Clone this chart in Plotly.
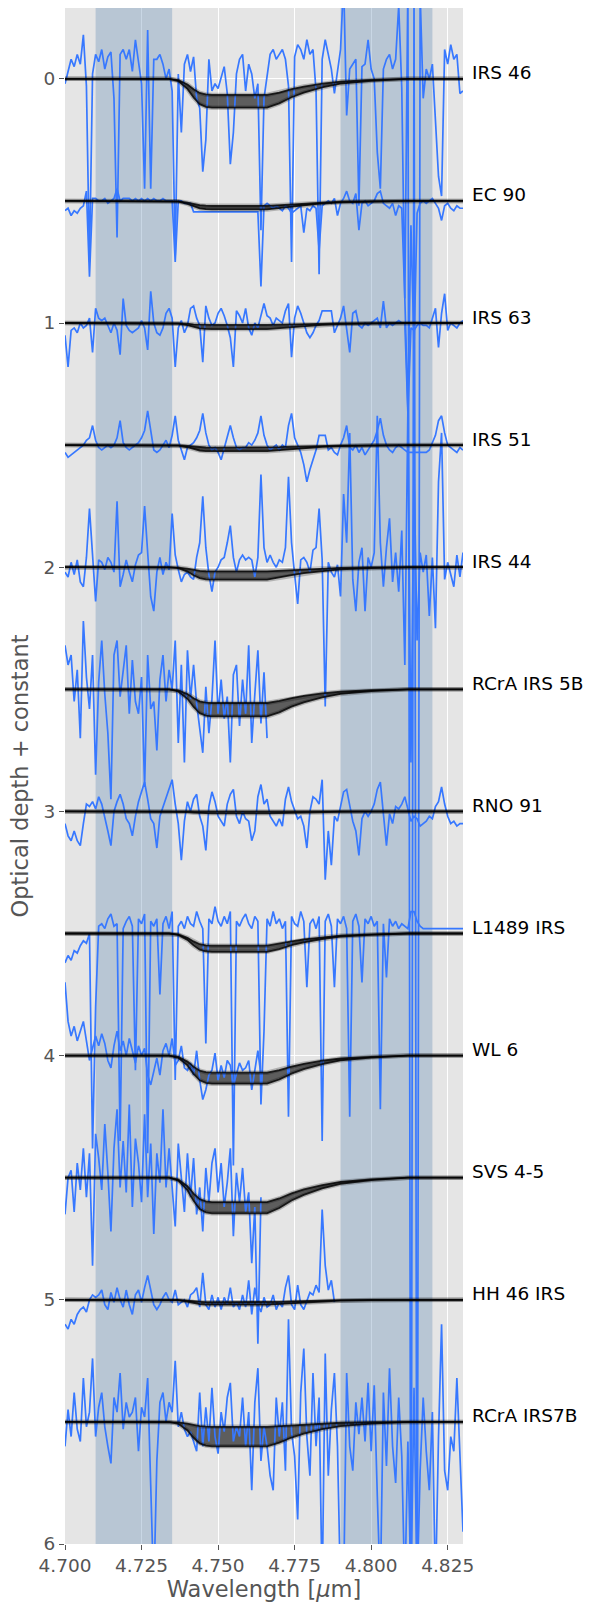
import numpy as np
import plotly.graph_objects as go

# ---------------- data ----------------
# common wavelength sampling of the spectra (micron), 4.700 ... 4.830 step 0.001
wavelength = np.round(np.arange(4700, 4831) / 1000.0, 3)

names = ["IRS 46", "EC 90", "IRS 63", "IRS 51", "IRS 44", "RCrA IRS 5B",
         "RNO 91", "L1489 IRS", "WL 6", "SVS 4-5", "HH 46 IRS", "RCrA IRS7B"]
offsets = [0.0, 0.5, 1.0, 1.5, 2.0, 2.5, 3.0, 3.5, 4.0, 4.5, 5.0, 5.5]

# observed optical depth relative to each offset, in units of 0.01
tau_irs46 = [2, -3, -8, -5, -10, -6, -18, 3, 75, -2,
             -10, -7, -12, -4, -9, -11, 8, 65, -10, -12,
             -8, -12, -3, -16, -6, 2, 45, -20, 45, -8,
             -8, -10, -6, 0, -4, 5, 72, -2, 22, -6,
             -10, -3, -9, 8, 12, 38, 25, -8, 5, 2,
             4, 0, -5, 6, 35, 22, -2, -8, -10, 5,
             -6, -2, 8, 2, 62, 8, -2, -10, -12, -8,
             -10, -12, -8, 3, 75, -9, -14, -12, -8, -16,
             -10, -12, 5, 80, -8, -16, -10, -4, 6, -4,
             -12, -40, 15, -4, -6, -8, 52, -5, -6, -16,
             -4, 0, 30, 45, -4, -8, -10, -4, -8, -30,
             4, 90, -40, 700, -40, 700, -35, 8, -4, 0,
             -6, 20, 40, 48, -12, -6, -14, -8, -10, 6, 5]
tau_ec90 = [4, 3, 6, 4, 5, 3, 2, -4, 31, -1,
            -1, 0, 0, -1, 1, 0, -1, -5, 0, -1,
            -1, -1, 0, -1, 0, -1, 0, -1, 0, -1,
            0, 0, -1, 0, 0, 0, 25, 0, 0, 1,
            1, 1, 4.5, 4.5, 4.5, 4.5, 4.5, 4.5, 4.5, 4.5,
            4.5, 4.5, 4.5, 4.5, 4.5, 4.5, 4.5, 4.5, 4.5, 4.5,
            4.5, 4.5, 4.5, 4.5, 35, 2, 1, 2, 3, 2,
            3, 4, 2, 3, 5, 4, 3, 2, 13, 3,
            4, 2, 3, 20, 2, 1, 0, 1, -1, 6,
            1, -1, -4, 0, 1, -3, 12, 1, 0, 2,
            1, 0, -3, -4, 1, 2, 3, 1, 6, 2,
            3, 40, 85, 10, 60, 5, 1, 0, 1, 0,
            -1, 1, 3, 8, 2, 1, 3, 4, 2, 3, 3]
tau_irs63 = [5, 18, 3, 2, 4, 0, 2, 1, -2, 12,
             -6, -2, -1, -2, 1, 4, 0, 3, 13, -10,
             1, 3, 4, 3, 2, -1, 2, 11, -13, 0,
             4, 5, 2, -4, -6, -2, 18, 2, -1, 4,
             1, -6, -7, -2, 1, 16, -7, -2, 1, 0,
             -4, -6, -3, 1, 6, 18, -5, -3, 0, -6,
             2, 5, 0, 2, -3, -8, -3, -2, 1, -2,
             -1, 0, -5, -8, 14, -2, -7, -4, 0, 4,
             6, 4, 1, -1, -5, -5, -5, -5, 4, 1,
             -2, -7, 3, 12, -4, -5, 1, 2, 0, 1,
             0, -1, -2, 2, -9, 2, 0, 1, 0, -1,
             0, 0, 37, 2, 3, 1, 0, 1, 1, 2,
             -2, -6, 10, -4, -12, 3, 0, 1, 2, 0, -1]
tau_irs51 = [3, 5, 4, 3, 2, 1, 0, -2, -3, -8,
             -2, 1, 2, 1, 0, 1, 0, -3, -10, -1,
             1, 2, 1, 0, -1, -3, -6, -14, -5, 2,
             3, 2, 0, -2, 1, -4, -12, -2, 2, 6,
             1, 0, -1, -3, -6, -13, -5, 0, 2, 1,
             3, 6, 1, -3, -8, -3, 1, 2, 1, 1,
             -1, 0, -2, -5, -12, -4, 0, 2, 1, 0,
             2, 0, 1, -8, -13, -3, 0, 3, 8, 15,
             10, 6, 2, -4, -4, -4, 2, 1, 3, 4,
             0, -3, -8, 1, 2, 0, 3, 1, 4, 2,
             0, -2, -6, -11, -4, 0, 2, 3, 1, 0,
             1, 2, 3, 3, 3, 3, 3, 3, 3, 2,
             -1, -4, -10, -12, -5, 0, 1, 2, 3, 1, 2]
tau_irs44 = [2, 4, -2, 3, -3, 6, 8, -4, -24, -5,
             14, -3, -2, 1, -4, -2, 2, -27, 8, 3,
             -3, 2, 6, -1, -5, -6, -25, -6, 12, 18,
             2, -4, 3, -2, 1, -22, -5, 1, 6, 3,
             2, 4, 5, -4, -10, -29, -8, 3, 10, 2,
             0, -3, -4, -10, -17, -4, 2, -3, -5, -3,
             -4, -3, 4, -4, -38, -8, -2, -5, -2, 0,
             -3, -2, -8, -37, -10, 3, 15, -3, -4, -2,
             2, -7, -8, -24, -3, 57, -2, 2, 4, -1,
             12, -30, -10, -55, 5, 18, -2, -8, 18, -4,
             0, -6, -62, -10, 8, -8, -20, 6, -6, 10,
             -15, 40, -65, 80, -40, 30, -6, 2, -5, 20,
             -4, 25, -35, -55, 5, -2, 3, 8, -5, 4, -6]
tau_rcra5b = [-18, -10, -14, 5, -8, 20, -28, -5, 8, -14,
              35, -3, -20, 2, 18, 45, -14, -20, 3, -8,
              -18, 10, -12, 5, 10, -5, 40, -14, 8, 5,
              25, -4, -14, 5, -8, 0, -20, 22, -10, 30,
              -16, 4, -10, 6, 15, 26, -1, 18, 4, -20,
              10, -4, 12, 3, 30, -6, -10, 15, -4, 10,
              -18, 22, 2, -16, 14, -7, 20]
tau_rno91 = [5, 10, 12, 8, 12, 14, 5, -3, -2, -4,
             -1, -6, -3, 2, 8, 14, 0, -4, -7, -3,
             3, 5, 10, 2, -4, -8, -12, -5, 3, 5,
             15, 2, -2, -6, -9, -13, -3, 5, 20, 4,
             -4, 0, -5, -7, 2, 6, 16, -2, -8, -4,
             2, 4, 6, -3, -7, -9, 2, 5, 0, 3,
             4, 12, 8, -6, -11, -3, -5, 2, 4, 6,
             3, 6, -5, -10, -4, 0, 3, 2, 6, 15,
             0, -6, -5, -3, -13, 28, 8, 22, 2, 4,
             -2, -8, -9, -3, 4, 8, 18, 3, 0, 2,
             0, -3, -9, -12, 2, 14, 1, 5, -2, -1,
             -3, -6, -1, 4, 2, 3, 6, 5, 4, 2,
             3, -2, -4, -10, -3, 2, 5, 4, 6, 5, 5]
tau_l1489 = [12, 9, 11, 7, 8, 5, 3, 4, 0, 88,
             30, -3, -4, -2, -6, -8, -3, -4, 85, -2,
             -5, -7, -3, 56, -6, -4, -8, 90, -5, -3,
             -6, 25, -4, -7, -2, -9, 60, -3, -5, -2,
             -7, -4, -3, -9, -5, -2, 45, -6, -4, -11,
             -5, -3, -7, -4, -9, 95, -5, -3, -6, -8,
             -4, -2, -7, -5, 70, 40, -6, -3, -9, -4,
             -6, -2, -5, 75, -7, -4, -3, -9, -5, 22,
             -4, -6, -2, -7, 85, -5, -8, -3, 22, -6,
             -4, -7, -2, 75, -5, -8, -3, 20, -6, -4,
             -7, -3, -5, 72, -4, 18, -6, -3, -5, -2,
             -4, -3, -2, -9, -9, -5, -3, -2, -2, -2,
             -2, -2, -2, -2, -2, -2, -2, -2, -2, -2, -2]
tau_wl6 = [-30, -14, -8, -12, -6, -10, -14, -6, 2, -3,
           -8, -4, -9, -5, 2, 5, -4, -10, -2, -6,
           0, -7, -2, 3, -4, 0, -3, 8, 12, 6,
           1, 8, -2, -5, 0, -7, 4, 2, -4, 5,
           6, 3, 8, -2, 10, 18, 14, 8, 6, -1,
           10, 4, 9, 2, 4, 12, 8, 3, 6, 5,
           2, 14, 6, -2, 8]
tau_svs45 = [15, 0, -3, 14, -6, 5, -12, 8, -10, 36,
             -18, -8, 5, -22, -2, 22, -12, -28, 4, -15,
             6, -30, 12, -16, -6, 10, -26, 8, -14, 23,
             -10, 2, -28, 4, -12, 6, 20, -14, 0, 14,
             -10, 8, -8, 15, 4, 22, -4, 10, -6, -12,
             6, -6, 12, 2, -12, 24, -2, 10, -4, 14,
             6, 35, 12, 68, 8]
tau_hh46 = [10, 12, 8, 10, 6, 4, 3, 5, 0, -2,
            -1, -2, -4, 2, 4, -3, 1, -5, 0, 3,
            -4, 2, 6, -2, -4, 1, -5, -10, -4, 2,
            4, 2, -1, -3, 0, 1, -4, 2, 1, 0,
            3, -2, -3, -5, 3, -11, 2, 4, -2, 3,
            -1, 4, -1, 2, -5, 3, 1, 4, -2, 3,
            -8, 6, -5, 2, 5, -1, 3, 2, -2, 4,
            1, 3, -5, -10, 2, 4, -6, 2, 4, 0,
            -3, -2, -6, -3, -37, -14, -4, -8, 1]
tau_rcra7b = [10, -5, 6, -12, 3, 8, -18, 2, -4, -26,
              6, -6, -12, 2, 10, 17, -10, -4, -20, 3,
              -8, -2, -4, -10, 12, -6, -2, -18, 26, 70,
              16, -8, -12, 0, -8, -4, -25, 2, -4, 3,
              6, 4, 8, 12, -12, 10, -6, 8, -14, 6,
              13, -4, 4, -10, -16, 8, 2, 6, -10, 10,
              -4, 28, -8, -22, 16, 2, 10, 22, 28, -10,
              6, -8, 20, -42, 4, 14, 40, -12, -30, 6,
              22, -20, 10, -10, 70, -28, 22, -5, -20, 10,
              70, 70, -20, 10, 20, -8, 5, -10, 8, -16,
              12, -15, 30, 70, -12, 18, -22, 10, 25, -10,
              14, 70, 8, 70, -14, 70, 20, -10, 12, 28,
              -4, 70, 6, -40, 20, 28, 6, 12, -18, 14, 45]

spectra = [tau_irs46, tau_ec90, tau_irs63, tau_irs51, tau_irs44, tau_rcra5b,
           tau_rno91, tau_l1489, tau_wl6, tau_svs45, tau_hh46, tau_rcra7b]
TAU_UNIT = 0.01

# model band: normalised profile and the shallow / deep depth of each source
model_wl = [4.700, 4.734, 4.737, 4.740, 4.742, 4.744, 4.746, 4.748, 4.766,
            4.770, 4.774, 4.778, 4.784, 4.790, 4.800, 4.812, 4.830]
model_shape = [0.0, 0.0, 0.08, 0.35, 0.65, 0.88, 0.97, 1.0, 1.0,
               0.85, 0.64, 0.48, 0.30, 0.17, 0.07, 0.0, 0.0]
depth_shallow = [0.066, 0.020, 0.008, 0.010, 0.017, 0.056, 0.002, 0.050, 0.070, 0.100, 0.010, 0.020]
depth_deep = [0.118, 0.035, 0.025, 0.025, 0.051, 0.111, 0.008, 0.075, 0.115, 0.146, 0.020, 0.100]

shaded = [(4.710, 4.735), (4.790, 4.820)]

X_RANGE = [4.7, 4.83]
Y_RANGE = [6, -0.29]

# ---------------- figure ----------------
FONT = "DejaVu Sans"
BLUE = "#3778ff"
fig = go.Figure()
shape_arr = np.array(model_shape)

# shaded wavelength windows (drawn as filled traces: above grid, below data)
for (a, b) in shaded:
    fig.add_trace(go.Scatter(x=[a, b, b, a, a],
                             y=[Y_RANGE[0], Y_RANGE[0], Y_RANGE[1], Y_RANGE[1], Y_RANGE[0]],
                             mode="lines", line=dict(width=0), fill="toself",
                             fillcolor="rgba(100,140,180,0.35)",
                             hoverinfo="skip", showlegend=False))

# model band fills (below the spectra)
for k in range(len(names)):
    lo = offsets[k] + depth_deep[k] * shape_arr
    up = offsets[k] + depth_shallow[k] * shape_arr
    fig.add_trace(go.Scatter(x=model_wl, y=lo, mode="lines", line=dict(width=0),
                             hoverinfo="skip", showlegend=False))
    fig.add_trace(go.Scatter(x=model_wl, y=up, mode="lines", line=dict(width=0),
                             fill="tonexty", fillcolor="rgba(40,40,40,0.72)",
                             hoverinfo="skip", showlegend=False))

# spectra
for k in range(len(names)):
    vals = spectra[k]
    y = [offsets[k] + v * TAU_UNIT for v in vals]
    fig.add_trace(go.Scatter(x=wavelength[:len(vals)], y=y, mode="lines",
                             line=dict(color=BLUE, width=1.7),
                             hoverinfo="skip", showlegend=False))

# model band edges
for k in range(len(names)):
    for d in (depth_deep[k], depth_shallow[k]):
        yy = offsets[k] + d * shape_arr
        fig.add_trace(go.Scatter(x=model_wl, y=yy, mode="lines",
                                 line=dict(color="rgba(0,0,0,0.22)", width=4.5),
                                 hoverinfo="skip", showlegend=False))
        fig.add_trace(go.Scatter(x=model_wl, y=yy, mode="lines",
                                 line=dict(color="rgba(0,0,0,0.8)", width=1.8),
                                 hoverinfo="skip", showlegend=False))

for k in range(len(names)):
    fig.add_annotation(x=1.0, xref="paper", y=offsets[k], yref="y",
                       text=names[k], showarrow=False, xanchor="left",
                       yanchor="middle", xshift=7, yshift=6,
                       font=dict(family=FONT, size=18.5, color="black"))

tick_font = dict(family=FONT, size=18.5, color="#555555")
fig.update_layout(
    width=589, height=1606,
    margin=dict(l=65, r=126, t=8, b=62),
    paper_bgcolor="white", plot_bgcolor="#E5E5E5",
    showlegend=False,
    xaxis=dict(range=X_RANGE, tickvals=[4.700, 4.725, 4.750, 4.775, 4.800, 4.825],
               ticktext=["4.700", "4.725", "4.750", "4.775", "4.800", "4.825"],
               showgrid=True, gridcolor="white", gridwidth=1.3, zeroline=False,
               ticks="outside", ticklen=5, tickwidth=1.3, tickcolor="#555555",
               tickfont=tick_font,
               title=dict(text="Wavelength [<i>μ</i>m]", standoff=6,
                          font=dict(family=FONT, size=22.5, color="#555555"))),
    yaxis=dict(range=Y_RANGE, tickvals=[0, 1, 2, 3, 4, 5, 6],
               showgrid=True, gridcolor="white", gridwidth=1.3, zeroline=False,
               ticks="outside", ticklen=5, tickwidth=1.3, tickcolor="#555555",
               tickfont=tick_font,
               title=dict(text="Optical depth + constant", standoff=8,
                          font=dict(family=FONT, size=22.5, color="#555555"))),
)

fig.write_html("out.html")
